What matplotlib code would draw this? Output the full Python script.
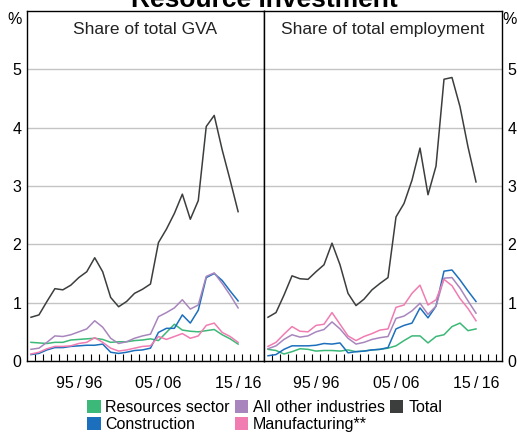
import matplotlib
matplotlib.use('agg')
from matplotlib import pyplot as plt
from matplotlib.patches import Patch

plt.rcParams['font.family'] = ['Liberation Sans', 'DejaVu Sans']

# annual data, 1989/90 to 2015/16
years = list(range(1990, 2017))
year_labels = {1996: '95\u2009/\u200996', 2006: '05\u2009/\u200906', 2016: '15\u2009/\u200916'}

# share of total GVA (%)
gva_resources = [0.32, 0.31, 0.30, 0.32, 0.32, 0.36, 0.37, 0.38, 0.39, 0.37, 0.32, 0.33, 0.33, 0.35,
                 0.36, 0.38, 0.35, 0.49, 0.63, 0.53, 0.51, 0.50, 0.52, 0.54, 0.45, 0.38, 0.29]
gva_construction = [0.11, 0.13, 0.19, 0.23, 0.23, 0.25, 0.26, 0.27, 0.27, 0.29, 0.15, 0.13, 0.15, 0.18,
                    0.19, 0.22, 0.49, 0.56, 0.56, 0.79, 0.65, 0.87, 1.43, 1.50, 1.38, 1.20, 1.03]
gva_other = [0.20, 0.22, 0.32, 0.43, 0.42, 0.45, 0.50, 0.55, 0.69, 0.58, 0.39, 0.30, 0.33, 0.39,
             0.43, 0.46, 0.76, 0.83, 0.91, 1.05, 0.89, 0.96, 1.45, 1.51, 1.33, 1.13, 0.91]
gva_manufacturing = [0.12, 0.15, 0.21, 0.25, 0.25, 0.26, 0.30, 0.32, 0.40, 0.32, 0.22, 0.17, 0.19, 0.22,
                     0.25, 0.26, 0.42, 0.37, 0.42, 0.47, 0.39, 0.43, 0.61, 0.65, 0.49, 0.42, 0.32]
gva_total = [0.75, 0.79, 1.02, 1.24, 1.22, 1.30, 1.43, 1.53, 1.77, 1.53, 1.09, 0.93, 1.02, 1.16,
             1.23, 1.32, 2.03, 2.26, 2.53, 2.86, 2.43, 2.75, 4.02, 4.21, 3.62, 3.10, 2.56]

# share of total employment (%)
emp_resources = [0.20, 0.18, 0.12, 0.16, 0.21, 0.20, 0.17, 0.18, 0.18, 0.17, 0.19, 0.16, 0.17, 0.19,
                 0.20, 0.22, 0.26, 0.35, 0.43, 0.43, 0.31, 0.42, 0.45, 0.59, 0.65, 0.52, 0.55]
emp_construction = [0.09, 0.11, 0.20, 0.26, 0.26, 0.26, 0.27, 0.30, 0.29, 0.31, 0.14, 0.16, 0.17, 0.19,
                    0.20, 0.23, 0.55, 0.61, 0.65, 0.91, 0.74, 0.94, 1.54, 1.56, 1.39, 1.20, 1.02]
emp_other = [0.21, 0.26, 0.37, 0.45, 0.41, 0.43, 0.50, 0.54, 0.67, 0.55, 0.39, 0.29, 0.32, 0.37,
             0.40, 0.42, 0.73, 0.77, 0.86, 0.99, 0.80, 0.94, 1.42, 1.43, 1.25, 1.03, 0.82]
emp_manufacturing = [0.25, 0.32, 0.46, 0.59, 0.51, 0.50, 0.61, 0.63, 0.83, 0.63, 0.43, 0.35, 0.42, 0.47,
                     0.53, 0.55, 0.92, 0.96, 1.16, 1.30, 0.96, 1.05, 1.40, 1.29, 1.07, 0.90, 0.69]
emp_total = [0.75, 0.83, 1.13, 1.46, 1.41, 1.40, 1.53, 1.65, 2.02, 1.65, 1.16, 0.95, 1.06, 1.22,
             1.33, 1.43, 2.47, 2.70, 3.10, 3.65, 2.85, 3.34, 4.83, 4.86, 4.36, 3.67, 3.07]

labels = ['Resources sector', 'Construction', 'All other industries', 'Manufacturing**', 'Total']
colors = ['#3cb878', '#1c6fbd', '#a886bd', '#f07cb1', '#3c3e3e']

panels = [
    ('Share of total GVA', [gva_resources, gva_construction, gva_other, gva_manufacturing, gva_total]),
    ('Share of total employment', [emp_resources, emp_construction, emp_other, emp_manufacturing, emp_total]),
]

fig = plt.figure(figsize=(5.17, 4.33), dpi=100)
W, H = 517, 433
bottom, top = 361, 11
axes = [fig.add_axes([27 / W, (H - bottom) / H, 237 / W, (bottom - top) / H]),
        fig.add_axes([264 / W, (H - bottom) / H, 238 / W, (bottom - top) / H])]

x = list(range(len(years)))
for k, (ax, (title, series)) in enumerate(zip(axes, panels)):
    for s, c in zip(series, colors):
        ax.plot(x, s, color=c, lw=1.1, zorder=3)
    ax.set_xlim(-0.5, 29.25)
    ax.set_ylim(0, 6)
    ax.set_yticks(range(6))
    ax.grid(axis='y', color='#c4c4c4', lw=1.0, zorder=0)
    ax.tick_params(axis='y', length=0, labelsize=11.5, pad=4)
    if k == 0:
        ax.yaxis.tick_left()
    else:
        ax.yaxis.tick_right()
    major = [years.index(y) for y in year_labels]
    ax.set_xticks(major)
    ax.set_xticklabels(list(year_labels.values()))
    ax.tick_params(axis='x', which='major', length=0, labelsize=11.5, pad=11)
    ax.set_xticks([i + 0.5 for i in range(29)], minor=True)
    ax.tick_params(axis='x', which='minor', direction='in', length=5, width=0.8, color='black')
    for sp in ax.spines.values():
        sp.set_color('black')
        sp.set_linewidth(1.0)
    ax.text(0.5, 0.968, title, transform=ax.transAxes, ha='center', va='top', fontsize=12.5,
            color='#222222')

fig.text(15 / W, 1 - 19 / H, '%', ha='center', va='center', fontsize=11.5)
fig.text(510 / W, 1 - 19 / H, '%', ha='center', va='center', fontsize=11.5)
fig.text(264 / W, 1 - 7 / H, 'Resource Investment', ha='center', va='baseline', fontsize=19,
         fontweight='bold')

handles = [Patch(facecolor=c, edgecolor='none', label=l) for c, l in zip(colors, labels)]
fig.legend(handles=handles, ncol=3, loc='upper left', bbox_to_anchor=(87 / W, 1 - 400 / H),
           frameon=False, fontsize=11.5, handlelength=0.85, handleheight=0.85, handletextpad=0.3,
           columnspacing=0.3, labelspacing=0.12, borderpad=0, borderaxespad=0)

fig.savefig('out.png', dpi=100)
plt.close(fig)
